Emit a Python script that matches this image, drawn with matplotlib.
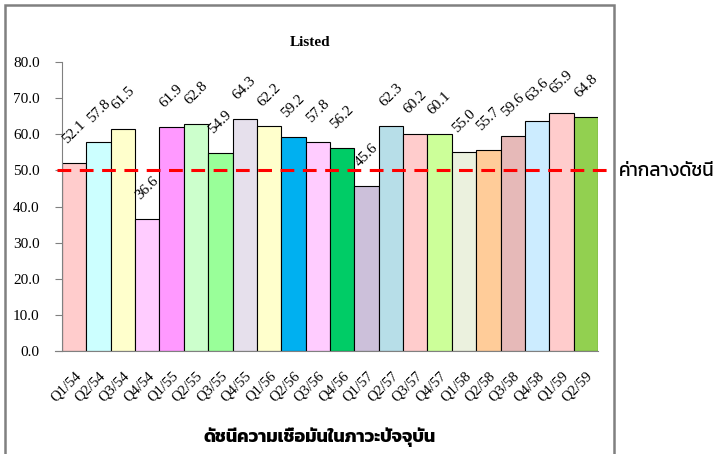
import matplotlib.pyplot as plt
from matplotlib import font_manager
from matplotlib.patches import Rectangle
from matplotlib.ft2font import FT2Font

quarters = ["Q1/54", "Q2/54", "Q3/54", "Q4/54", "Q1/55", "Q2/55", "Q3/55", "Q4/55",
            "Q1/56", "Q2/56", "Q3/56", "Q4/56", "Q1/57", "Q2/57", "Q3/57", "Q4/57",
            "Q1/58", "Q2/58", "Q3/58", "Q4/58", "Q1/59", "Q2/59"]
values = [52.1, 57.8, 61.5, 36.6, 61.9, 62.8, 54.9, 64.3, 62.2, 59.2, 57.8,
          56.2, 45.6, 62.3, 60.2, 60.1, 55.0, 55.7, 59.6, 63.6, 65.9, 64.8]
bar_colors = ["#FFCCCC", "#CCFFFF", "#FFFFCC", "#FFCCFF", "#FF99FF", "#CCFFCC",
              "#99FF99", "#E6E0EC", "#FFFFCC", "#00B0F0", "#FFCCFF", "#00CC66",
              "#CCC0DA", "#B7DEE8", "#FFCCCC", "#CCFF99", "#EBF1DE", "#FFCC99",
              "#E6B9B8", "#CCECFF", "#FFCCCC", "#92D050"]
midpoint = 50
title = "Listed"
xlabel = "ดัชนีความเชื่อมั่นในภาวะปัจจุบัน"
mid_label = "ค่ากลางดัชนี"

# find installed fonts that can draw Thai; prefer ones whose tone marks
# have no advance (they then sit over the previous letter)
good, other = [], []
for path in font_manager.findSystemFonts():
    try:
        f = FT2Font(path)
        if ord("ก") not in f.get_charmap():
            continue
        name = font_manager.FontProperties(fname=path).get_name()
        g = f.load_char(0x0E48)
        if g.linearHoriAdvance == 0:
            good.append(name)
        else:
            other.append(name)
    except Exception:
        pass
thai_fonts = list(dict.fromkeys(good + other))
serif = ["Liberation Serif"] + thai_fonts + ["DejaVu Sans"]
sans = ["DejaVu Sans"] + thai_fonts

plt.rcParams["font.family"] = serif

fig = plt.figure(figsize=(7.25, 4.54), dpi=100)
ax = fig.add_axes([0.0855, 0.2269, 0.7394, 0.6365])

x = list(range(len(values)))
ax.bar(x, values, width=1.0, color=bar_colors, edgecolor="black", linewidth=0.8, zorder=2)

for xi, v in zip(x, values):
    ax.text(xi, v + 8.6, f"{v:.1f}", rotation=45, ha="center", va="center",
            fontsize=11, zorder=4)

ax.set_xlim(-0.5, len(values) - 0.5)
ax.set_ylim(0, 80)
ax.set_yticks(range(0, 81, 10))
ax.set_yticklabels([f"{t:.1f}" for t in range(0, 81, 10)], fontsize=11)
ax.tick_params(axis="y", length=5, width=0.8, color="#808080", pad=11)
ax.set_xticks(x)
ax.set_xticklabels(quarters, rotation=45, ha="right", va="top",
                   rotation_mode="anchor", fontsize=10.5)
ax.tick_params(axis="x", length=0, pad=13)
for s in ["top", "right"]:
    ax.spines[s].set_visible(False)
for s in ["left", "bottom"]:
    ax.spines[s].set_color("#808080")
    ax.spines[s].set_linewidth(0.8)
ax.spines["bottom"].set_bounds(-0.8, len(values) - 0.5)

# dashed midpoint line runs from the y ticks out to the frame edge
ax.plot([-0.7, 22.15], [midpoint, midpoint], color="red", lw=2.2,
        ls=(0, (4.5, 2.8)), clip_on=False, zorder=3)
fig.text(619 / 725, 1 - 170 / 454, mid_label, ha="left", va="center",
         fontsize=13.5, family=sans)

fig.text(310 / 725, 1 - 42 / 454, title, ha="center", va="center",
         fontsize=11, fontweight="bold")
fig.text(320 / 725, 1 - 437 / 454, xlabel, ha="center", va="center",
         fontsize=13, fontweight="bold")

fig.patches.append(Rectangle((5 / 725, -0.1), 609 / 725, 1.1 - 5 / 454,
                             transform=fig.transFigure, fill=False,
                             edgecolor="#808080", lw=1.8, clip_on=False))

fig.savefig("out.png", dpi=100)
